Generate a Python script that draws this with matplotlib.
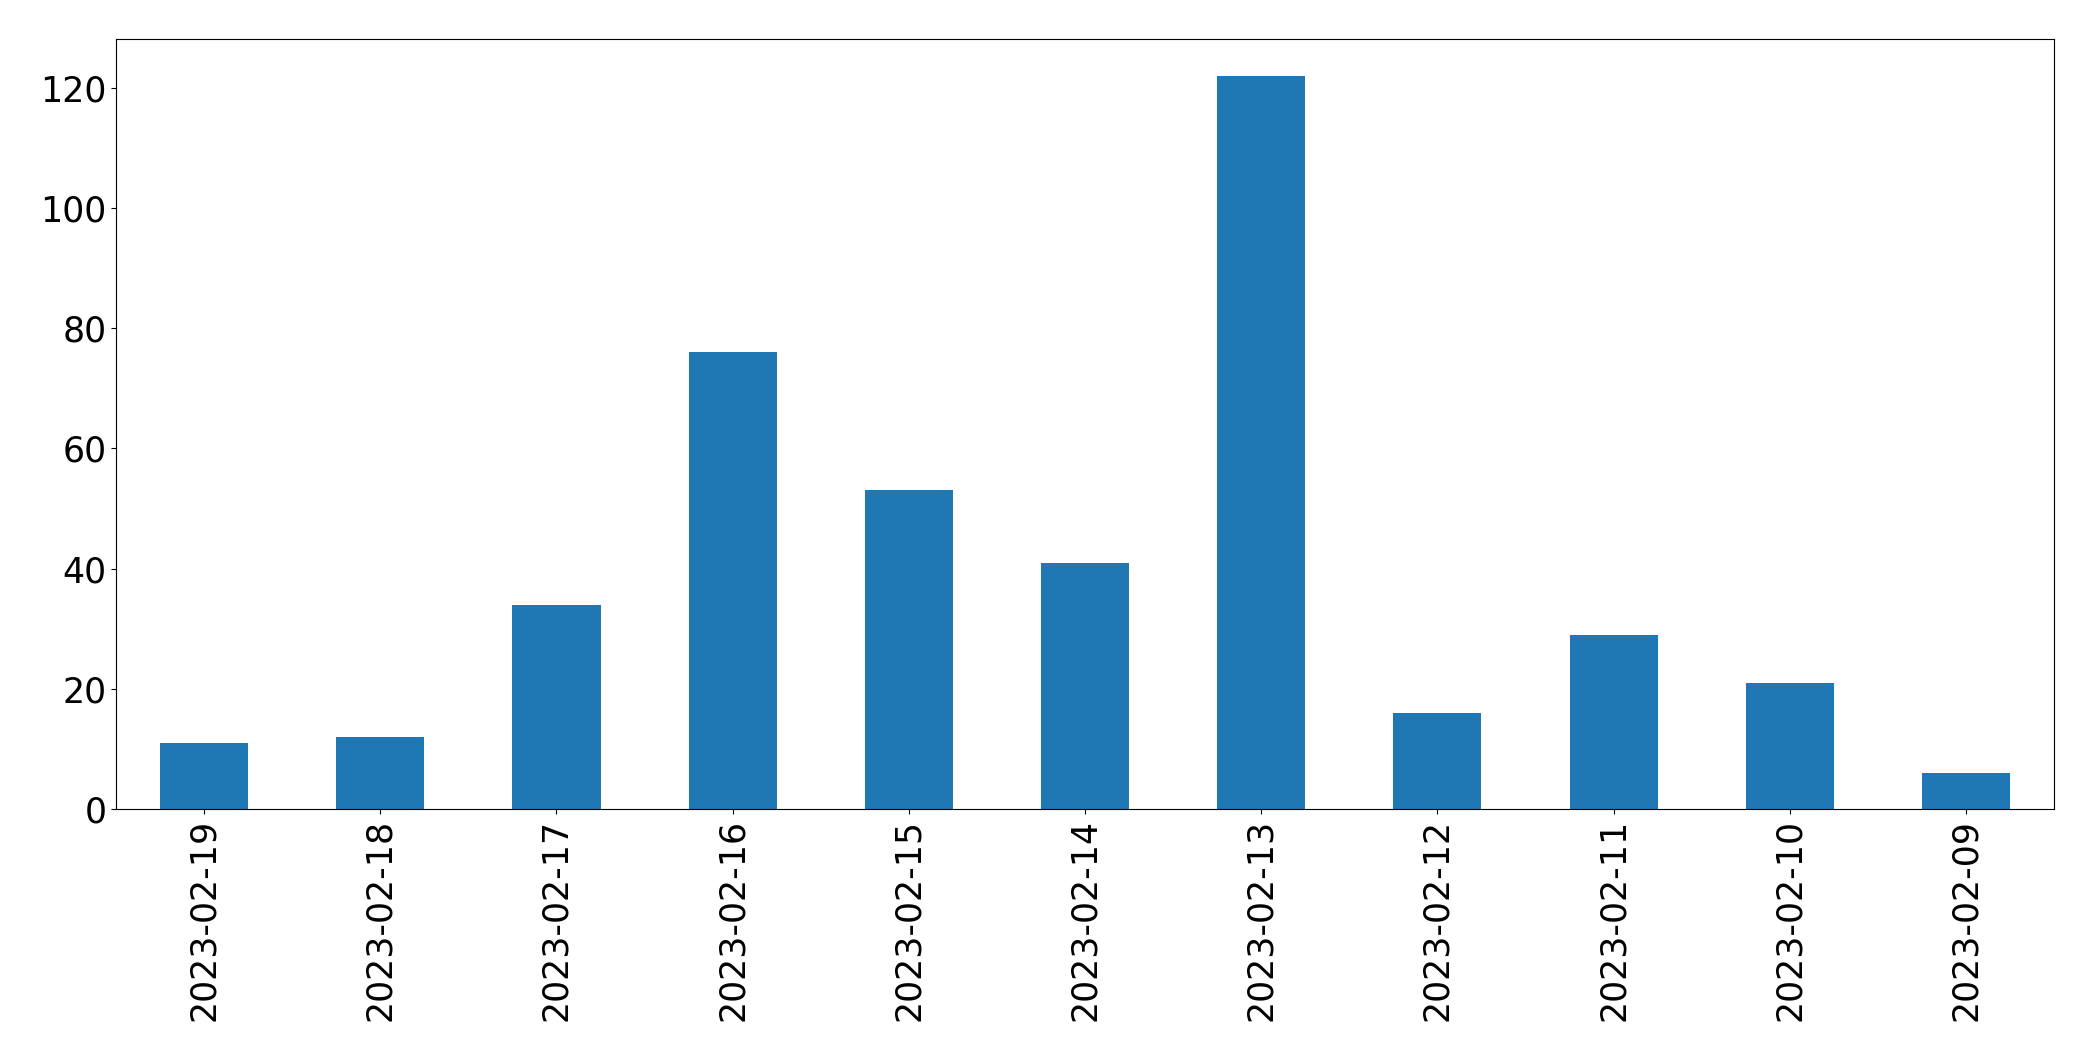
import matplotlib
matplotlib.use("Agg")
import matplotlib.pyplot as plt
import pandas as pd

dates = ["2023-02-19", "2023-02-18", "2023-02-17", "2023-02-16", "2023-02-15",
         "2023-02-14", "2023-02-13", "2023-02-12", "2023-02-11", "2023-02-10",
         "2023-02-09"]
counts = [11, 12, 34, 76, 53, 41, 122, 16, 29, 21, 6]

s = pd.Series(counts, index=dates)

fig = plt.figure(figsize=(20.93, 10.61), dpi=100)
ax = fig.add_axes([116/2093, 1 - 809/1061, (2054-116)/2093, (809-39)/1061])
s.plot(kind="bar", ax=ax, color="#1f77b4")
ax.tick_params(axis="both", labelsize=25)
ax.set_xticklabels(dates, rotation=90)
fig.savefig("out.png", dpi=100)
